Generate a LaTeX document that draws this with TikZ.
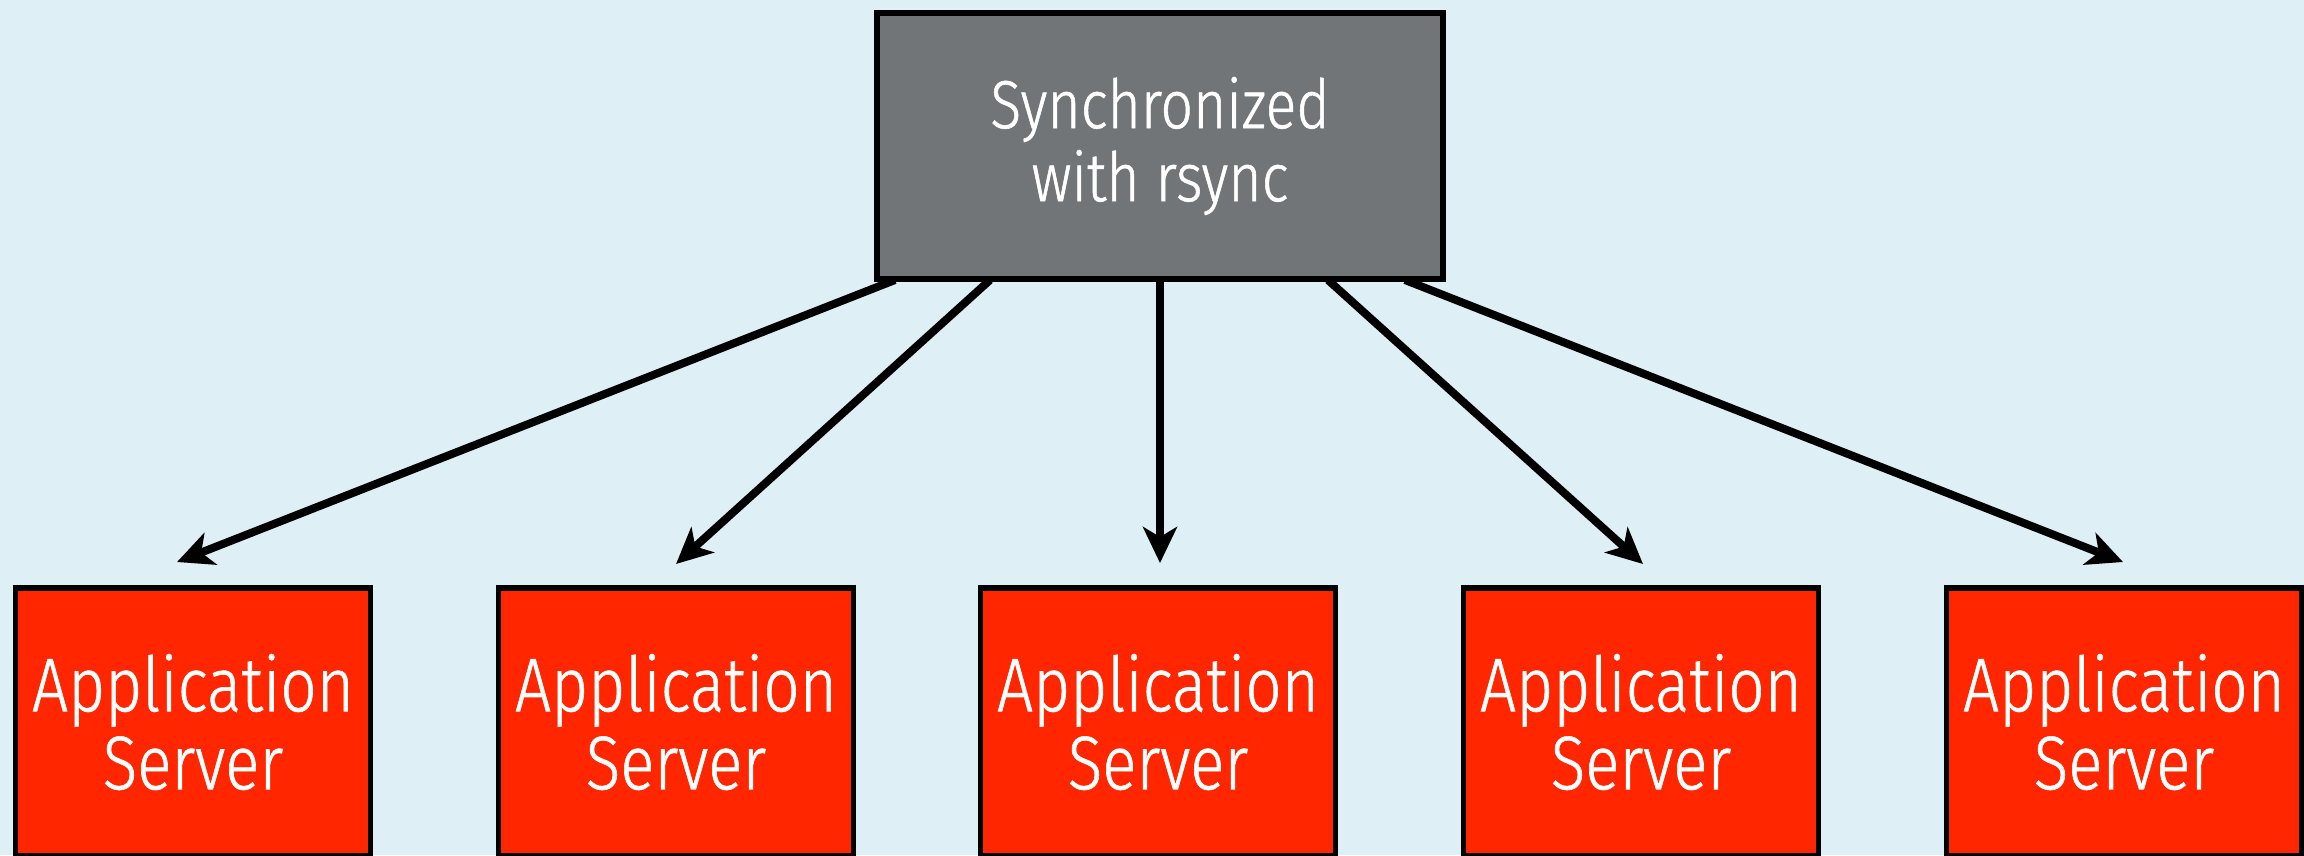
\documentclass[tikz,border=0pt]{standalone}
\usepackage{fontspec}
\newfontfamily\txtfont{Fira Sans}[UprightFont={* Light}, FakeStretch=0.84, FakeBold=0.8]
\usetikzlibrary{arrows.meta}
\definecolor{bg}{RGB}{222,239,246}
\definecolor{gbox}{RGB}{114,117,120}
\definecolor{rbox}{RGB}{255,38,0}
\begin{document}
\begin{tikzpicture}[x=1pt,y=-1pt,
  box/.style={draw=black, line width=5.5pt, inner sep=0pt, text=white, align=center},
  topbox/.style={box, fill=gbox, minimum width=566pt, minimum height=266pt,
    font=\txtfont\fontsize{68}{73}\selectfont},
  srvbox/.style={box, fill=rbox, minimum width=355pt, minimum height=268pt,
    font=\txtfont\fontsize{76}{78}\selectfont},
  arr/.style={line width=8pt, -{Stealth[length=36pt,width=34pt,inset=10pt]}}]
\fill[bg] (0,0) rectangle (2304,855);
\useasboundingbox (0,0) rectangle (2304,855);

\coordinate (a1) at (895,280);
\coordinate (a2) at (990,280);
\coordinate (a3) at (1160,280);
\coordinate (a4) at (1328,280);
\coordinate (a5) at (1405,280);
\coordinate (b1) at (177,562);
\coordinate (b2) at (676,564);
\coordinate (b3) at (1160,563);
\coordinate (b4) at (1643,564);
\coordinate (b5) at (2123,562);

\foreach \i in {1,...,5} \draw[arr] (a\i) -- (b\i);

\node[topbox] (top) at (1160,146) {Synchronized\\with rsync};
\node[srvbox] (s1) at (193,722) {Application\\Server};
\node[srvbox] (s2) at (676,722) {Application\\Server};
\node[srvbox] (s3) at (1158,722) {Application\\Server};
\node[srvbox] (s4) at (1641,722) {Application\\Server};
\node[srvbox] (s5) at (2124,722) {Application\\Server};
\end{tikzpicture}
\end{document}
